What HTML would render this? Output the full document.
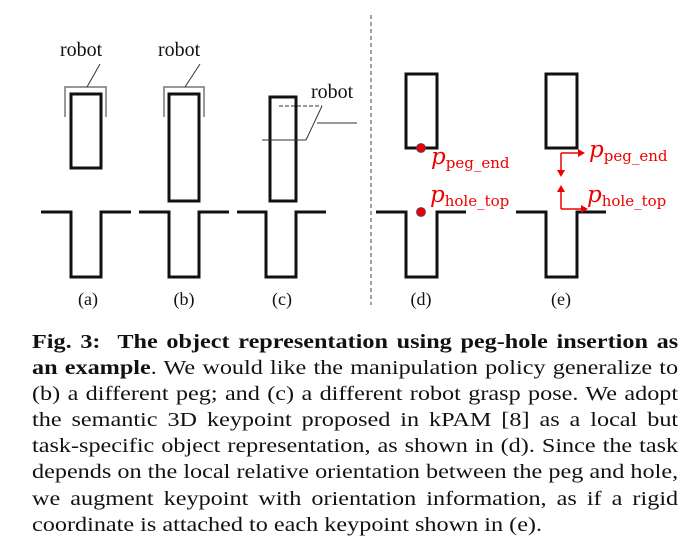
<!DOCTYPE html>
<html><head><meta charset="utf-8">
<style>
html,body{margin:0;padding:0;background:#fff;}
body{width:700px;height:555px;position:relative;overflow:hidden;font-family:"Liberation Serif",serif;}
svg{position:absolute;left:0;top:0;}
.cap{position:absolute;left:32px;width:534px;font-size:20px;line-height:26.1px;color:#111;transform:scaleX(1.21);transform-origin:0 0;}
.ln{white-space:nowrap;text-align:justify;text-align-last:justify;height:26.1px;}
.ln.last{text-align-last:left;}
</style></head><body>
<svg width="700" height="320" font-family="Liberation Serif, serif">
<g fill="none" stroke="#111" stroke-width="3">
 <rect x="71" y="94" width="30" height="74"/>
 <rect x="169" y="94" width="30" height="107"/>
 <rect x="270" y="97" width="26" height="104"/>
 <rect x="406" y="74" width="31" height="74"/>
 <rect x="546" y="74" width="31" height="74"/>
 <polyline points="41,212 71,212 71,277 101,277 101,212 131,212"/>
 <polyline points="139,212 169,212 169,277 199,277 199,212 229,212"/>
 <polyline points="237,212 266,212 266,277 296,277 296,212 326,212"/>
 <polyline points="376,212 406,212 406,277 437,277 437,212 466,212"/>
 <polyline points="516,212 546,212 546,277 577,277 577,212 606,212"/>
</g>
<g fill="none" stroke="#777" stroke-width="1.5">
 <polyline points="65,117 65,87 106,87 106,117"/>
 <polyline points="164,117 164,87 204,87 204,117"/>
</g>
<g fill="none" stroke="#333" stroke-width="1">
 <line x1="100" y1="64" x2="87" y2="87"/>
 <line x1="200" y1="64" x2="185" y2="87"/>
 <line x1="279" y1="106" x2="322" y2="106" stroke-dasharray="4,2"/>
 <line x1="322" y1="106" x2="306" y2="140"/>
 <line x1="262" y1="140" x2="306" y2="140"/>
 <line x1="317" y1="123" x2="357" y2="123"/>
 <line x1="371" y1="15" x2="371" y2="305" stroke="#444" stroke-dasharray="4,3"/>
</g>
<g font-size="20" fill="#111">
 <text x="60" y="56">robot</text>
 <text x="158" y="56">robot</text>
 <text x="311" y="98">robot</text>
</g>
<g font-size="18" fill="#111" text-anchor="middle">
 <text x="88" y="305">(a)</text>
 <text x="184" y="305">(b)</text>
 <text x="282" y="305">(c)</text>
 <text x="421" y="305">(d)</text>
 <text x="561" y="305">(e)</text>
</g>
<circle cx="421" cy="148" r="4.5" fill="#e00" stroke="#447" stroke-width="0.8"/>
<circle cx="421" cy="212" r="4.5" fill="#e00" stroke="#447" stroke-width="0.8"/>
<g stroke="#e00" stroke-width="1.5" fill="none">
 <line x1="561" y1="153" x2="580" y2="153"/><line x1="561" y1="153" x2="561" y2="172"/>
 <line x1="561" y1="209" x2="561" y2="190"/><line x1="561" y1="209" x2="583" y2="209"/>
</g>
<g fill="#e00">
 <polygon points="585,153 578,149 578,157"/><polygon points="561,177 557,170 565,170"/>
 <polygon points="561,185 557,192 565,192"/><polygon points="588,209 581,205 581,213"/>
</g>
<g fill="#e00" font-family="DejaVu Serif, serif">
 <text x="431" y="164" font-size="23" font-style="italic">p<tspan font-size="15" font-style="normal" dy="4">peg_end</tspan></text>
 <text x="430" y="202" font-size="23" font-style="italic">p<tspan font-size="15" font-style="normal" dy="4">hole_top</tspan></text>
 <text x="589" y="157" font-size="23" font-style="italic">p<tspan font-size="15" font-style="normal" dy="4">peg_end</tspan></text>
 <text x="587" y="202" font-size="23" font-style="italic">p<tspan font-size="15" font-style="normal" dy="4">hole_top</tspan></text>
</g>
</svg>
<div class="cap" style="top:329px">
<div class="ln"><b>Fig. 3:&nbsp; The object representation using peg-hole insertion as</b></div>
<div class="ln"><b>an example</b>. We would like the manipulation policy generalize to</div>
<div class="ln">(b) a different peg; and (c) a different robot grasp pose. We adopt</div>
<div class="ln">the semantic 3D keypoint proposed in kPAM [8] as a local but</div>
<div class="ln">task-specific object representation, as shown in (d). Since the task</div>
<div class="ln">depends on the local relative orientation between the peg and hole,</div>
<div class="ln">we augment keypoint with orientation information, as if a rigid</div>
<div class="ln last">coordinate is attached to each keypoint shown in (e).</div>
</div>
</body></html>
